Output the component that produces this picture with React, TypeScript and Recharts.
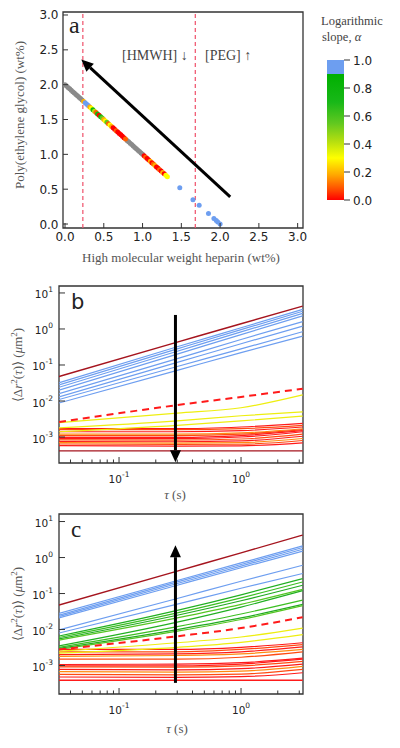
import React from 'react';
import {
  ScatterChart,
  Scatter,
  LineChart,
  Line,
  BarChart,
  Bar,
  XAxis,
  YAxis,
  ReferenceLine,
  ReferenceArea,
} from 'recharts';

// ---------- panel a: composition map ----------
const GRAY_HMWH = [0.0, 0.02, 0.04, 0.06, 0.08, 0.1, 0.12, 0.14, 0.16, 0.18, 0.2, 0.22, 0.8, 0.82, 0.84, 0.86, 0.88, 0.9, 0.92, 0.94, 0.96, 0.98, 1.0];
const GRAY_PEG = [2.0, 1.98, 1.96, 1.94, 1.92, 1.9, 1.88, 1.86, 1.84, 1.82, 1.8, 1.78, 1.2, 1.18, 1.16, 1.14, 1.12, 1.1, 1.08, 1.06, 1.04, 1.02, 1.0];

const HMWH = [
  0.24, 0.26, 0.28, 0.3, 0.32, 0.34, 0.36, 0.38, 0.4, 0.42, 0.44, 0.46, 0.48, 0.5, 0.52, 0.54, 0.56, 0.58, 0.6, 0.62, 0.64, 0.66, 0.68, 0.7, 0.72, 0.74, 0.76, 0.78,
  1.02, 1.04, 1.06, 1.08, 1.1, 1.12, 1.14, 1.16, 1.18, 1.2, 1.22, 1.24, 1.26, 1.28, 1.3, 1.32,
  1.48, 1.65, 1.73, 1.85, 1.92, 1.95, 1.97, 2.0,
];
const PEG = [
  1.76, 1.74, 1.72, 1.7, 1.68, 1.66, 1.64, 1.62, 1.6, 1.58, 1.56, 1.54, 1.52, 1.5, 1.48, 1.46, 1.44, 1.42, 1.4, 1.38, 1.36, 1.34, 1.32, 1.3, 1.28, 1.26, 1.24, 1.22,
  0.98, 0.96, 0.94, 0.92, 0.9, 0.88, 0.86, 0.84, 0.82, 0.8, 0.78, 0.76, 0.74, 0.72, 0.7, 0.68,
  0.52, 0.35, 0.27, 0.15, 0.08, 0.05, 0.03, 0.0,
];
const SLOPE = [
  0.18, 1.0, 1.0, 0.98, 0.2, 0.35, 0.7, 0.4, 0.15, 0.75, 0.05, 0.7, 0.65, 0.2, 0.35, 0.6, 0.08, 0.3, 0.2, 0.05, 0.02, 0.15, 0.0, 0.05, 0.03, 0.0, 0.05, 0.08,
  0.03, 0.15, 0.02, 0.05, 0.18, 0.0, 0.06, 0.2, 0.03, 0.05, 0.15, 0.02, 0.22, 0.05, 0.3, 0.35,
  1.0, 1.0, 1.0, 1.0, 1.0, 1.0, 1.0, 1.0,
];
const BOUNDARIES = [0.23, 1.68];
const COMP_TICKS = [0, 0.5, 1, 1.5, 2, 2.5, 3];
const ALPHA_TICKS = [0, 0.2, 0.4, 0.6, 0.8, 1];

// ---------- panels b, c: mean squared displacement ----------
const TAU = [0.0322, 0.3, 1, 3.2];
const TAU_TICKS = [0.04, 0.05, 0.06, 0.07, 0.08, 0.09, 0.1, 0.2, 0.3, 0.4, 0.5, 0.6, 0.7, 0.8, 0.9, 1, 2, 3];
const MSD_TICKS = [0.001, 0.01, 0.1, 1, 10];

const B_REF_TOP = [0.048, 0.43, 1.4, 4.3];
const B_BLUE = [
  [0.032, 0.32, 1.08, 3.5],
  [0.028, 0.28, 0.96, 3.1],
  [0.024, 0.24, 0.83, 2.7],
  [0.02, 0.2, 0.7, 2.3],
  [0.016, 0.15, 0.51, 1.6],
  [0.013, 0.118, 0.39, 1.2],
  [0.011, 0.091, 0.28, 0.84],
  [0.0088, 0.071, 0.22, 0.63],
];
const B_DASH = [0.0026, 0.0077, 0.013, 0.022];
const B_YELLOW = [
  [0.0025, 0.0046, 0.0065, 0.0148],
  [0.0018, 0.0028, 0.0039, 0.005],
  [0.0014, 0.0021, 0.0028, 0.0038],
];
const B_RED = [
  [0.0017, 0.0017, 0.0019, 0.0024],
  [0.0016, 0.0016, 0.0017, 0.0021],
  [0.0014, 0.0014, 0.0015, 0.0019],
  [0.0012, 0.0012, 0.0013, 0.0017],
  [0.0011, 0.0011, 0.0012, 0.0016],
  [0.00098, 0.00098, 0.0011, 0.0015],
  [0.0009, 0.0009, 0.001, 0.0014],
  [0.00083, 0.00082, 0.00088, 0.0012],
  [0.00075, 0.00074, 0.00078, 0.00105],
  [0.0007, 0.00068, 0.0007, 0.00091],
  [0.00064, 0.00062, 0.00063, 0.0008],
  [0.00058, 0.00056, 0.00057, 0.00069],
];
const B_REF_BOTTOM = [0.00041, 0.00041, 0.00041, 0.00041];

const C_REF_TOP = [0.048, 0.42, 1.35, 4.2];
const C_BLUE = [
  [0.028, 0.23, 0.71, 2.1],
  [0.025, 0.21, 0.64, 1.9],
  [0.023, 0.19, 0.58, 1.7],
  [0.021, 0.17, 0.52, 1.5],
  [0.0098, 0.073, 0.22, 0.61],
  [0.008, 0.051, 0.14, 0.36],
];
const C_GREEN = [
  [0.0066, 0.034, 0.092, 0.26],
  [0.006, 0.029, 0.076, 0.21],
  [0.0055, 0.025, 0.063, 0.17],
  [0.0051, 0.021, 0.05, 0.13],
  [0.0035, 0.016, 0.042, 0.12],
  [0.0032, 0.012, 0.027, 0.066],
  [0.003, 0.01, 0.021, 0.05],
  [0.0028, 0.009, 0.019, 0.046],
];
const C_DASH = [0.0028, 0.0065, 0.011, 0.022];
const C_YELLOW = [
  [0.0025, 0.0043, 0.0062, 0.011],
  [0.0022, 0.0032, 0.0044, 0.0072],
];
const C_RED = [
  [0.0028, 0.0028, 0.0032, 0.0043],
  [0.0024, 0.0024, 0.0028, 0.0038],
  [0.002, 0.0021, 0.0024, 0.0033],
  [0.0018, 0.0019, 0.0021, 0.0028],
  [0.0015, 0.0015, 0.0017, 0.0024],
  [0.00107, 0.0011, 0.0012, 0.0016],
  [0.00098, 0.00098, 0.0011, 0.0015],
  [0.00092, 0.0009, 0.00098, 0.0013],
  [0.00078, 0.00076, 0.00082, 0.0011],
  [0.00068, 0.00066, 0.0007, 0.00095],
  [0.00057, 0.00055, 0.00058, 0.00078],
  [0.00048, 0.00047, 0.00049, 0.00063],
];
const C_REF_BOTTOM = [0.00039, 0.00039, 0.00039, 0.00039];

// ---------- styles ----------
const SANS = 'DejaVu Sans';
const SERIF = 'Liberation Serif';
const INK = '#222';
const FRAME = '#333';
const BLUE = '#6d9ef0';
const DARK_RED = '#a5141e';
const RED = '#ff1a1a';
const ORANGE_RED = '#ff4a10';
const ORANGE = '#ff8a10';
const YELLOW = '#eeee10';
const GREENS = ['#22b022', '#3cbf22', '#22aa22', '#55c622'];
const WARM = [RED, ORANGE_RED, RED, ORANGE, ORANGE_RED, RED];

const CMAP: [number, string][] = [
  [0, '#ff0000'],
  [0.1, '#ff6000'],
  [0.2, '#ffb000'],
  [0.3, '#ffff00'],
  [0.45, '#b0dd10'],
  [0.6, '#60c820'],
  [0.75, '#10b810'],
  [0.9, '#00b000'],
];

function colorFor(a: number) {
  if (a >= 0.9) return BLUE;
  let best = CMAP[0];
  for (const s of CMAP) if (Math.abs(s[0] - a) < Math.abs(best[0] - a)) best = s;
  return best[1];
}

const grayPts = GRAY_HMWH.map((x, i) => ({ x, y: GRAY_PEG[i], c: '#8a8a8a' }));
const colorPts = HMWH.map((x, i) => ({ x, y: PEG[i], c: colorFor(SLOPE[i]) }));

const dot = (p: any) => <circle cx={p.cx} cy={p.cy} r={2.5} fill={p.payload.c} />;

const arrowShape = (p: any) => {
  const { x1, y1, x2, y2 } = p;
  if (![x1, y1, x2, y2].every((v) => Number.isFinite(v))) return <g />;
  const dx = x2 - x1;
  const dy = y2 - y1;
  const len = Math.hypot(dx, dy) || 1;
  const ux = dx / len;
  const uy = dy / len;
  const head = 12;
  const half = 5.5;
  const bx = x2 - ux * head;
  const by = y2 - uy * head;
  return (
    <g>
      <line x1={x1} y1={y1} x2={bx} y2={by} stroke="#000" strokeWidth={3} />
      <polygon
        points={`${x2},${y2} ${bx - uy * half},${by + ux * half} ${bx + uy * half},${by - ux * half}`}
        fill="#000"
      />
    </g>
  );
};

// ---------- ticks (drawn inward) ----------
const LinTickLeft = ({ x, y, payload }: any) => {
  const ax = x + 8;
  return (
    <g>
      <line x1={ax} x2={ax + 5} y1={y} y2={y} stroke={FRAME} />
      <text x={ax - 4.5} y={y + 4.5} textAnchor="end" fontSize={12} fontFamily={SANS} fill={INK}>
        {Number(payload.value).toFixed(1)}
      </text>
    </g>
  );
};

const LinTickBottom = ({ x, y, payload }: any) => {
  const ay = y - 8;
  return (
    <g>
      <line x1={x} x2={x} y1={ay} y2={ay - 5} stroke={FRAME} />
      <text x={x} y={ay + 13} textAnchor="middle" fontSize={12} fontFamily={SANS} fill={INK}>
        {Number(payload.value).toFixed(1)}
      </text>
    </g>
  );
};

const AlphaTick = ({ x, y, payload }: any) => {
  const ax = x - 8;
  return (
    <g>
      <line x1={ax} x2={ax + 6} y1={y} y2={y} stroke={FRAME} />
      <text x={ax + 9} y={y + 4.5} textAnchor="start" fontSize={12} fontFamily={SANS} fill={INK}>
        {Number(payload.value).toFixed(1)}
      </text>
    </g>
  );
};

const LogTickLeft = ({ x, y, payload }: any) => {
  const ax = x + 8;
  const e = Math.round(Math.log10(payload.value));
  return (
    <g>
      <line x1={ax} x2={ax + 6} y1={y} y2={y} stroke={FRAME} />
      <text x={ax - 6} y={y + 5.5} textAnchor="end" fontSize={10.5} fontFamily={SANS} fill={INK}>
        <tspan>10</tspan>
        <tspan dy={-6} fontSize={7.5}>{e}</tspan>
      </text>
    </g>
  );
};

const LogTickBottom = ({ x, y, payload }: any) => {
  const ay = y - 8;
  const lg = Math.log10(payload.value);
  const e = Math.round(lg);
  const major = Math.abs(lg - e) < 1e-6;
  return (
    <g>
      <line x1={x} x2={x} y1={ay} y2={ay - (major ? 6 : 3.5)} stroke={FRAME} />
      {major && (
        <text x={x} y={ay + 20} textAnchor="middle" fontSize={10.5} fontFamily={SANS} fill={INK}>
          <tspan>10</tspan>
          <tspan dy={-6} fontSize={7.5}>{e}</tspan>
        </text>
      )}
    </g>
  );
};

const pts = (vals: number[]) => TAU.map((t, i) => ({ t, v: vals[i] }));

const msd = (vals: number[], color: string, key: string, width = 1.2, dash?: string) => (
  <Line
    key={key}
    data={pts(vals)}
    dataKey="v"
    type="monotone"
    stroke={color}
    strokeWidth={width}
    strokeDasharray={dash}
    dot={false}
    activeDot={false}
    isAnimationActive={false}
  />
);

function MsdPanel({
  top,
  height,
  marginTop,
  marginBottom,
  yDomain,
  lines,
  arrow,
}: {
  top: number;
  height: number;
  marginTop: number;
  marginBottom: number;
  yDomain: [number, number];
  lines: React.ReactNode[];
  arrow: { x: number; y: number }[];
}) {
  return (
    <div style={{ position: 'absolute', left: 0, top }}>
      <LineChart width={400} height={height} margin={{ top: marginTop, right: 97, bottom: marginBottom, left: 19 }}>
        <XAxis
          type="number"
          dataKey="t"
          scale="log"
          domain={[0.0322, 3.22]}
          allowDataOverflow
          ticks={TAU_TICKS}
          interval={0}
          tick={LogTickBottom}
          tickLine={false}
          axisLine={false}
          tickSize={6}
          tickMargin={2}
          height={30}
        />
        <YAxis
          type="number"
          scale="log"
          domain={yDomain}
          allowDataOverflow
          ticks={MSD_TICKS}
          interval={0}
          tick={LogTickLeft}
          tickLine={false}
          axisLine={false}
          tickSize={6}
          tickMargin={2}
          width={40}
        />
        {lines}
        <ReferenceLine segment={arrow} shape={arrowShape} ifOverflow="visible" />
        <ReferenceArea
          x1={0.0322}
          x2={3.22}
          y1={yDomain[0]}
          y2={yDomain[1]}
          fill="none"
          stroke={FRAME}
          strokeWidth={1.3}
          ifOverflow="visible"
        />
      </LineChart>
    </div>
  );
}

const msdLabel = (
  <>
    <tspan>⟨Δ</tspan>
    <tspan fontStyle="italic">r</tspan>
    <tspan dy={-5} fontSize={9}>2</tspan>
    <tspan dy={5}>(</tspan>
    <tspan fontStyle="italic">τ</tspan>
    <tspan>)⟩ (</tspan>
    <tspan fontStyle="italic">μ</tspan>
    <tspan>m</tspan>
    <tspan dy={-5} fontSize={9}>2</tspan>
    <tspan dy={5}>)</tspan>
  </>
);

export default function App() {
  const bLines = [
    msd(B_REF_TOP, DARK_RED, 'bt', 1.4),
    ...B_BLUE.map((v, i) => msd(v, BLUE, `bb${i}`)),
    ...B_RED.map((v, i) => msd(v, WARM[i % WARM.length], `br${i}`)),
    ...B_YELLOW.map((v, i) => msd(v, YELLOW, `by${i}`)),
    msd(B_REF_BOTTOM, DARK_RED, 'bz', 1.3),
    msd(B_DASH, RED, 'bd', 2, '7 5'),
  ];
  const cLines = [
    msd(C_REF_TOP, DARK_RED, 'ct', 1.4),
    ...C_BLUE.map((v, i) => msd(v, BLUE, `cb${i}`)),
    ...C_GREEN.map((v, i) => msd(v, GREENS[i % GREENS.length], `cg${i}`)),
    ...C_RED.map((v, i) => msd(v, WARM[i % WARM.length], `cr${i}`)),
    ...C_YELLOW.map((v, i) => msd(v, YELLOW, `cy${i}`)),
    msd(C_REF_BOTTOM, RED, 'cz', 1.3),
    msd(C_DASH, RED, 'cd', 2, '7 5'),
  ];

  return (
    <div style={{ position: 'absolute', left: 0, top: 0, width: 400, height: 748, background: '#fff' }}>
      {/* panel a */}
      <div style={{ position: 'absolute', left: 0, top: 0 }}>
        <ScatterChart width={400} height={262} margin={{ top: 12, right: 97, bottom: 4, left: 23 }}>
          <XAxis
            type="number"
            dataKey="x"
            domain={[-0.026, 3.069]}
            allowDataOverflow
            ticks={COMP_TICKS}
            interval={0}
            tick={LinTickBottom}
            tickLine={false}
            axisLine={false}
            tickSize={6}
            tickMargin={2}
            height={30}
          />
          <YAxis
            type="number"
            dataKey="y"
            domain={[-0.057, 3.043]}
            allowDataOverflow
            ticks={COMP_TICKS}
            interval={0}
            tick={LinTickLeft}
            tickLine={false}
            axisLine={false}
            tickSize={6}
            tickMargin={2}
            width={40}
          />
          {BOUNDARIES.map((b) => (
            <ReferenceLine key={b} x={b} stroke="#f0506a" strokeWidth={1.2} strokeDasharray="4 3" />
          ))}
          <Scatter data={grayPts} shape={dot} isAnimationActive={false} />
          <Scatter data={colorPts} shape={dot} isAnimationActive={false} />
          <ReferenceLine
            segment={[
              { x: 2.13, y: 0.39 },
              { x: 0.21, y: 2.36 },
            ]}
            shape={arrowShape}
            ifOverflow="visible"
          />
          <ReferenceArea
            x1={-0.026}
            x2={3.069}
            y1={-0.057}
            y2={3.043}
            fill="none"
            stroke={FRAME}
            strokeWidth={1.3}
            ifOverflow="visible"
          />
        </ScatterChart>
      </div>

      {/* colour bar */}
      <div style={{ position: 'absolute', left: 300, top: 50 }}>
        <BarChart width={90} height={160} data={[{ k: 'α', v: 1 }]} margin={{ top: 10, right: 6, bottom: 10, left: 27 }} barCategoryGap={0}>
          <defs>
            <linearGradient id="alphaBar" x1="0" y1="0" x2="0" y2="1">
              <stop offset="0" stopColor={BLUE} />
              <stop offset="0.1" stopColor={BLUE} />
              <stop offset="0.1" stopColor="#00b000" />
              <stop offset="0.3" stopColor="#18b818" />
              <stop offset="0.45" stopColor="#60c820" />
              <stop offset="0.58" stopColor="#b4de10" />
              <stop offset="0.7" stopColor="#ffff00" />
              <stop offset="0.82" stopColor="#ffa800" />
              <stop offset="0.92" stopColor="#ff5000" />
              <stop offset="1" stopColor="#ff0000" />
            </linearGradient>
          </defs>
          <XAxis dataKey="k" hide />
          <YAxis
            orientation="right"
            type="number"
            domain={[0, 1]}
            ticks={ALPHA_TICKS}
            interval={0}
            tick={AlphaTick}
            tickLine={false}
            axisLine={false}
            tickSize={6}
            tickMargin={2}
            width={40}
          />
          <Bar dataKey="v" fill="url(#alphaBar)" isAnimationActive={false} />
        </BarChart>
      </div>

      <MsdPanel
        top={270}
        height={230}
        marginTop={16}
        marginBottom={7}
        yDomain={[1.9e-4, 15.6]}
        lines={bLines}
        arrow={[
          { x: 0.29, y: 2.45 },
          { x: 0.29, y: 0.0002 },
        ]}
      />
      <MsdPanel
        top={500}
        height={248}
        marginTop={14}
        marginBottom={24}
        yDomain={[1.62e-4, 16.2]}
        lines={cLines}
        arrow={[
          { x: 0.29, y: 0.00033 },
          { x: 0.29, y: 2.2 },
        ]}
      />

      {/* titles and panel letters */}
      <svg width={400} height={748} style={{ position: 'absolute', left: 0, top: 0, pointerEvents: 'none' }}>
        <g fontFamily={SERIF} fill="#444">
          <text x={69} y={33} fontSize={24} fill={INK}>a</text>
          <text x={122} y={60} fontSize={14}>[HMWH] ↓</text>
          <text x={205} y={60} fontSize={14}>[PEG] ↑</text>
          <text transform="translate(24,115) rotate(-90)" textAnchor="middle" fontSize={13} fill="#555">
            Poly(ethylene glycol) (wt%)
          </text>
          <text x={181} y={262} textAnchor="middle" fontSize={13} fill="#555">
            High molecular weight heparin (wt%)
          </text>
          <text x={321} y={25} fontSize={12.5}>Logarithmic</text>
          <text x={322} y={40.5} fontSize={12.5}>
            slope, <tspan fontStyle="italic">α</tspan>
          </text>
          <text transform="translate(22,365) rotate(-90)" textAnchor="middle" fontSize={13} fill="#555">
            {msdLabel}
          </text>
          <text x={175} y={499} textAnchor="middle" fontSize={13} fill="#555">
            <tspan fontStyle="italic">τ</tspan> (s)
          </text>
          <text x={71} y={537} fontSize={23} fill={INK}>c</text>
          <text transform="translate(22,604) rotate(-90)" textAnchor="middle" fontSize={13} fill="#555">
            {msdLabel}
          </text>
          <text x={177} y={733} textAnchor="middle" fontSize={13} fill="#555">
            <tspan fontStyle="italic">τ</tspan> (s)
          </text>
        </g>
        <text x={71} y={309} fontSize={21} fontFamily={SANS} fill={INK}>b</text>
      </svg>
    </div>
  );
}
